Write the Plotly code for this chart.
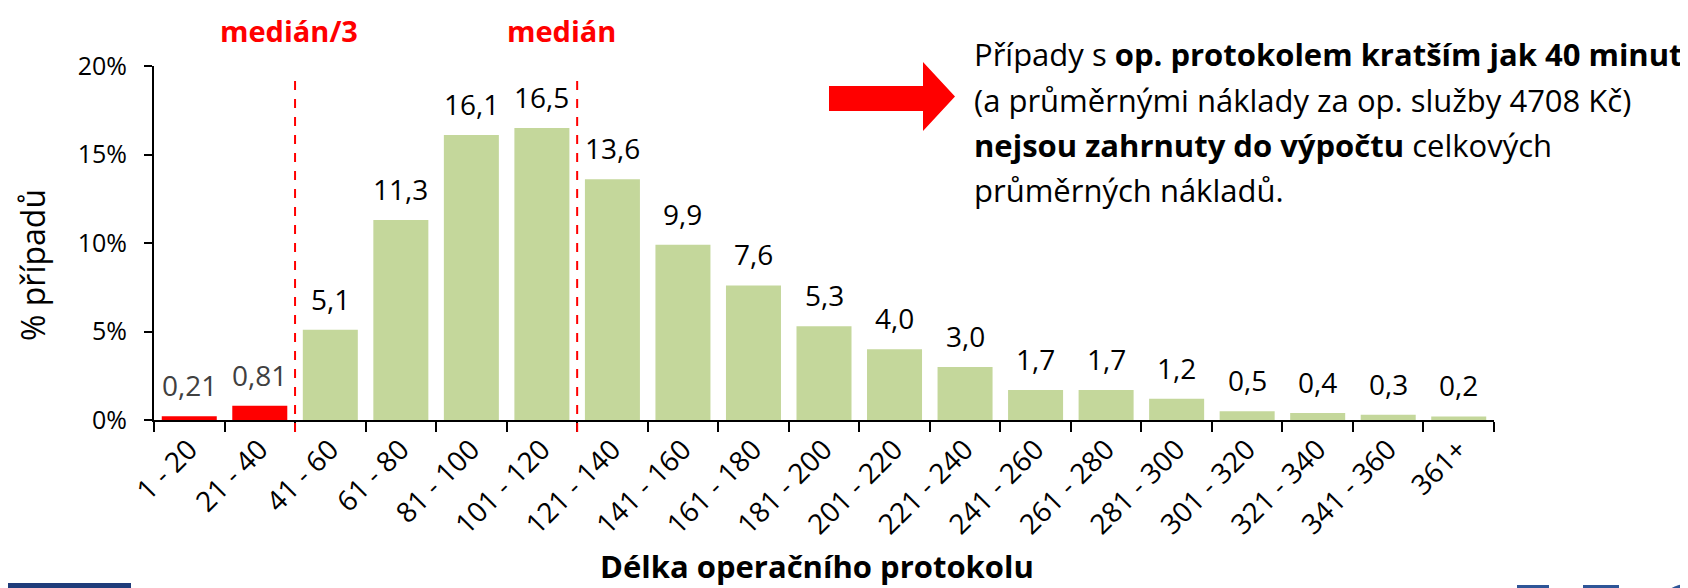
import plotly.graph_objects as go

categories = ["1 - 20", "21 - 40", "41 - 60", "61 - 80", "81 - 100", "101 - 120",
              "121 - 140", "141 - 160", "161 - 180", "181 - 200", "201 - 220",
              "221 - 240", "241 - 260", "261 - 280", "281 - 300", "301 - 320",
              "321 - 340", "341 - 360", "361+"]
values = [0.21, 0.81, 5.1, 11.3, 16.1, 16.5, 13.6, 9.9, 7.6, 5.3, 4.0, 3.0,
          1.7, 1.7, 1.2, 0.5, 0.4, 0.3, 0.2]
value_labels = ["0,21", "0,81", "5,1", "11,3", "16,1", "16,5", "13,6", "9,9", "7,6",
                "5,3", "4,0", "3,0", "1,7", "1,7", "1,2", "0,5", "0,4", "0,3", "0,2"]
excluded = [True, True] + [False] * 17
y_ticks = [0, 5, 10, 15, 20]
y_tick_labels = ["0%", "5%", "10%", "15%", "20%"]

# page body has an 8px margin; figure is sized to fill the rest of the window
OFF = 8
W, H = 1688 - OFF, 588 - OFF
# plot area in window pixel coordinates
PL, PR, PT, PB = 154, 1494, 66, 420
PW, PH = PR - PL, PB - PT

def px(x):
    return (x - PL) / PW

def py(y):
    return (PB - y) / PH

FONT = "Open Sans"
GREEN = "#C4D79B"
RED = "#FF0000"

fig = go.Figure()
fig.add_trace(go.Bar(
    x=categories, y=values,
    marker=dict(color=[RED if e else GREEN for e in excluded], line=dict(width=0)),
    width=0.78, hoverinfo="x+y",
))

annotations = []
for c, v, t, e in zip(categories, values, value_labels, excluded):
    annotations.append(dict(x=c, y=v, xref="x", yref="y", text=t, showarrow=False,
                            yanchor="bottom", yshift=10,
                            font=dict(family=FONT, size=28, color="#404040" if e else "black")))

# median labels
annotations.append(dict(x=1.42, y=py(30), xref="x", yref="paper", text="<b>medián/3</b>",
                        showarrow=False, xanchor="center", yanchor="middle",
                        font=dict(family=FONT, size=29, color=RED)))
annotations.append(dict(x=5.28, y=py(30), xref="x", yref="paper", text="<b>medián</b>",
                        showarrow=False, xanchor="center", yanchor="middle",
                        font=dict(family=FONT, size=29, color=RED)))

# note text
note_lines = ["Případy s <b>op. protokolem kratším jak 40 minut</b>",
              "(a průměrnými náklady za op. služby 4708 Kč)",
              "<b>nejsou zahrnuty do výpočtu</b> celkových",
              "průměrných nákladů."]
note_y = [54, 100, 145, 190]
for line, yy in zip(note_lines, note_y):
    annotations.append(dict(x=px(972), y=py(yy), xref="paper", yref="paper", text=line,
                            showarrow=False, xanchor="left", yanchor="middle", align="left",
                            font=dict(family=FONT, size=31, color="black")))

# axis titles
annotations.append(dict(x=px(817), y=py(566), xref="paper", yref="paper",
                        text="<b>Délka operačního protokolu</b>", showarrow=False,
                        xanchor="center", yanchor="middle",
                        font=dict(family=FONT, size=31, color="black")))
annotations.append(dict(x=px(32), y=py(265), xref="paper", yref="paper",
                        text="% případů", showarrow=False, textangle=-90,
                        xanchor="center", yanchor="middle",
                        font=dict(family=FONT, size=32, color="black")))

shapes = []
for xb in [1.5, 5.5]:
    shapes.append(dict(type="line", xref="x", yref="paper", x0=xb, x1=xb,
                       y0=py(432), y1=py(73), line=dict(color=RED, width=2, dash="dash")))

# red arrow
ax0, ax1, ax2 = 829, 923, 955
ay_s0, ay_s1, ay_h0, ay_h1, ay_t = 86, 111, 62, 131, 96.5
pts = [(ax0, ay_s0), (ax1, ay_s0), (ax1, ay_h0), (ax2, ay_t), (ax1, ay_h1), (ax1, ay_s1), (ax0, ay_s1)]
path = "M " + " L ".join(f"{px(a)},{py(b)}" for a, b in pts) + " Z"
shapes.append(dict(type="path", xref="paper", yref="paper", path=path,
                   fillcolor=RED, line=dict(width=0)))

# logo fragments at bottom
BLUE = "#2E5597"
shapes.append(dict(type="rect", xref="paper", yref="paper", x0=px(0), x1=px(131),
                   y0=py(590), y1=py(583), fillcolor="#1F3C7A", line=dict(width=0)))
for a, b in [(1517, 1549), (1583, 1619)]:
    shapes.append(dict(type="rect", xref="paper", yref="paper", x0=px(a), x1=px(b),
                       y0=py(590), y1=py(585), fillcolor=BLUE, line=dict(width=0)))
shapes.append(dict(type="circle", xref="paper", yref="paper", x0=px(1662), x1=px(1714),
                   y0=py(620), y1=py(584), fillcolor=BLUE, line=dict(width=0)))

fig.update_layout(
    width=W, height=H,
    margin=dict(l=PL - OFF, r=1688 - PR, t=PT - OFF, b=588 - PB),
    paper_bgcolor="white", plot_bgcolor="white",
    showlegend=False, bargap=0.22,
    annotations=annotations, shapes=shapes,
    font=dict(family=FONT, color="black"),
)
fig.update_xaxes(
    type="category", range=[-0.5, 18.5],
    showline=True, linecolor="black", linewidth=2,
    ticks="outside", tickson="boundaries", ticklen=10, tickwidth=2, tickcolor="black",
    tickangle=-45, tickfont=dict(family=FONT, size=28, color="black"),
    showgrid=False, zeroline=False,
)
fig.update_yaxes(
    range=[0, 20], tickvals=y_ticks, ticktext=y_tick_labels,
    showline=True, linecolor="black", linewidth=2,
    ticks="outside", ticklen=8, tickwidth=2, tickcolor="black",
    tickfont=dict(family=FONT, size=25, color="black"),
    ticklabelstandoff=12,
    showgrid=False, zeroline=False,
)

fig.write_html("out.html")
